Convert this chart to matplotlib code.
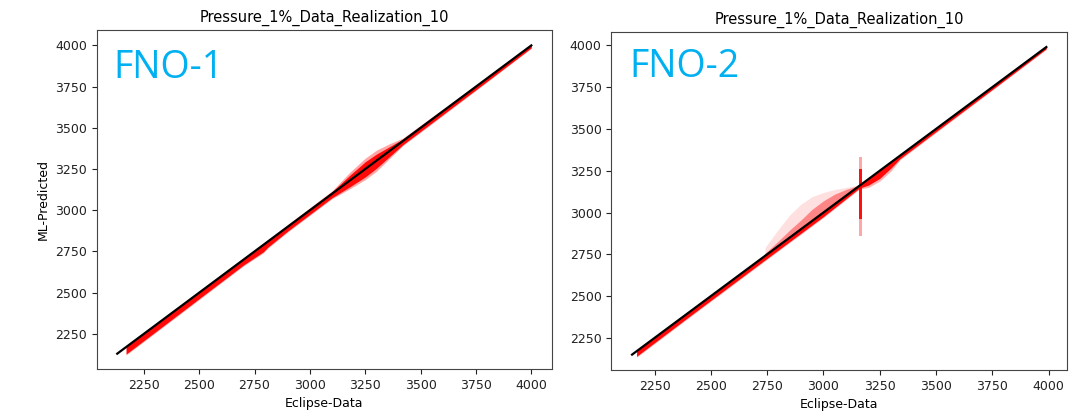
import numpy as np
import matplotlib
matplotlib.use("Agg")
import matplotlib.pyplot as plt

# ---- shared labels -------------------------------------------------------
title_text = "Pressure_1%_Data_Realization_10"
x_label = "Eclipse-Data"
y_label = "ML-Predicted"
model_names = ["FNO-1", "FNO-2"]
tick_values = [2250, 2500, 2750, 3000, 3250, 3500, 3750, 4000]

# ---- FNO-1: reference (y = x) span and prediction envelopes --------------
ref_span_1 = [2130, 4000]
x_knots_1 = [2170, 2300, 2500, 2700, 2790, 2810, 2900, 3100, 3180, 3250, 3300, 3360, 3420, 3600, 3800, 4000]
core_lo_1 = [-42, -40, -36, -32, -42, -34, -26, -24, -38, -48, -46, -34, -22, -20, -18, -14]
core_hi_1 = [4, 5, 5, 7, 8, 8, 9, 12, 32, 44, 40, 26, 12, 9, 7, 4]
halo_lo_1 = [-48, -46, -42, -38, -48, -40, -32, -30, -50, -64, -64, -46, -28, -26, -22, -18]
halo_hi_1 = [8, 9, 10, 12, 12, 12, 14, 18, 50, 66, 64, 44, 18, 14, 10, 6]

# ---- FNO-2: reference span and prediction envelopes ----------------------
ref_span_2 = [2150, 3990]
x_knots_2 = [2170, 2400, 2700, 3000, 3160, 3200, 3250, 3300, 3340, 3500, 3750, 3990]
core_lo_2 = [-30, -26, -24, -24, -14, -36, -46, -34, -18, -16, -14, -10]
core_hi_2 = [6, 8, 8, 10, 8, 6, 6, 6, 6, 6, 6, 4]
halo_lo_2 = [-36, -32, -30, -30, -20, -50, -62, -52, -25, -22, -18, -14]

# spray of over-predicted cells left of the pressure front
spray_x = [2740, 2800, 2850, 2900, 2950, 3000, 3050, 3100, 3165]
spray_outer = [2790, 2900, 2985, 3050, 3095, 3120, 3138, 3150, 3168]
spray_inner = [2755, 2830, 2895, 2955, 3020, 3070, 3110, 3138, 3166]

# vertical streak of predictions at the front location
streak_x = 3165
streak_faint = [2860, 3330]
streak_dense = [2960, 3260]


def draw_envelope(ax, xs, lo, hi, alpha):
    xs = np.asarray(xs, float)
    ax.fill_between(xs, xs + np.asarray(lo), xs + np.asarray(hi),
                    color="red", alpha=alpha, linewidth=0)


fig = plt.figure(figsize=(10.75, 4.11), dpi=100)
ax1 = fig.add_axes([0.0898, 0.102, 0.4237, 0.825])
ax2 = fig.add_axes([0.5687, 0.0998, 0.4239, 0.8232])

# FNO-1 panel
draw_envelope(ax1, x_knots_1, halo_lo_1, halo_hi_1, 0.35)
draw_envelope(ax1, x_knots_1, core_lo_1, core_hi_1, 0.95)
ax1.plot(ref_span_1, ref_span_1, color="black", lw=1.6)
pad1 = 0.05 * np.ptp(ref_span_1)
ax1.set_xlim(ref_span_1[0] - pad1, ref_span_1[1] + pad1)
ax1.set_ylim(ref_span_1[0] - pad1, ref_span_1[1] + pad1)
ax1.set_ylabel(y_label, fontsize=9)

# FNO-2 panel
ax2.fill_between(spray_x, spray_x, spray_outer, color="red", alpha=0.12, linewidth=0)
ax2.fill_between(spray_x, spray_x, spray_inner, color="red", alpha=0.40, linewidth=0)
ax2.fill_betweenx(streak_faint, streak_x - 5, streak_x + 5, color="red", alpha=0.35, linewidth=0)
ax2.fill_betweenx(streak_dense, streak_x - 7, streak_x + 7, color="red", alpha=0.9, linewidth=0)
draw_envelope(ax2, x_knots_2, halo_lo_2, core_hi_2, 0.30)
draw_envelope(ax2, x_knots_2, core_lo_2, core_hi_2, 0.95)
ax2.plot(ref_span_2, ref_span_2, color="black", lw=1.6)
pad2 = 0.05 * np.ptp(ref_span_2)
ax2.set_xlim(ref_span_2[0] - pad2, ref_span_2[1] + pad2)
ax2.set_ylim(ref_span_2[0] - pad2, ref_span_2[1] + pad2)

for ax, name, tx, ty in [(ax1, model_names[0], 0.038, 0.944), (ax2, model_names[1], 0.040, 0.951)]:
    ax.set_xticks(tick_values)
    ax.set_yticks(tick_values)
    ax.tick_params(labelsize=9, colors="#222222")
    for sp in ax.spines.values():
        sp.set_color("#444444")
    ax.set_title(title_text, fontsize=10.5, pad=6)
    ax.set_xlabel(x_label, fontsize=9)
    ax.text(tx, ty, name, transform=ax.transAxes, ha="left", va="top",
            fontsize=27, color="#00B0F0", family="Open Sans")

fig.savefig("out.png", dpi=100)
